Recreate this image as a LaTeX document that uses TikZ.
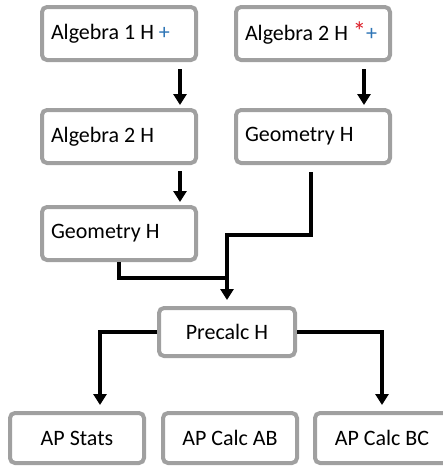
\documentclass[tikz,border=0pt]{standalone}
\usepackage{fontspec}
\setmainfont{Carlito}
\usetikzlibrary{arrows.meta,positioning}
\definecolor{boxgray}{RGB}{160,160,160}
\definecolor{plusblue}{RGB}{46,117,182}
\definecolor{starred}{RGB}{220,30,40}
\newcommand{\lefttext}[1]{\makebox[136pt][l]{#1}}

\begin{document}
\begin{tikzpicture}[x=1pt, y=1pt, font=\fontsize{22}{26}\selectfont,
	   course/.style={draw=boxgray, line width=4pt, rounded corners=5pt, fill=white, minimum height=53pt},
	   lcourse/.style={course, inner xsep=9pt},
	   ccourse/.style={course, minimum width=134pt, align=center},
	   link/.style={line width=3.5pt},
	   arr/.style={link, -{Triangle[width=13pt,length=11pt]}}]
	  \useasboundingbox (0,0) rectangle (443,-467);
	  \node[lcourse] (alg1) at (119,-33.5) {\lefttext{Algebra 1 H \textcolor{plusblue}{+}}};
	  \node[lcourse, right=36pt of alg1] (alg2r) {\lefttext{Algebra 2 H \textcolor{starred}{\scalebox{1.2}{*}}\textcolor{plusblue}{+}}};
	  \node[lcourse, below=46pt of alg1] (alg2) {\lefttext{Algebra 2 H}};
	  \node[lcourse, below=46pt of alg2r] (geor) {\lefttext{Geometry H}};
	  \node[lcourse, below=40pt of alg2] (geol) {\lefttext{Geometry H}};
	  \node[ccourse, minimum width=136pt, minimum height=48pt] (pre) at (227,-332) {Precalc H};
	  \node[ccourse, minimum height=50pt] (stats) at (77,-438) {AP Stats};
	  \node[ccourse, minimum height=50pt, right=15pt of stats] (calcab) {AP Calc AB};
	  \node[ccourse, minimum height=50pt, right=14pt of calcab] (calcbc) {AP Calc BC};
	  % left column
	  \draw[arr, shorten <=7pt, shorten >=3pt] ([xshift=61pt]alg1.south) -- ([xshift=61pt]alg2.north);
	  \draw[arr, shorten <=6pt, shorten >=3pt] ([xshift=61pt]alg2.south) -- ([xshift=61pt]geol.north);
	  % right column
	  \draw[arr, shorten <=7pt, shorten >=3pt] ([xshift=51pt]alg2r.south) -- ([xshift=51pt]geor.north);
	  % into precalc
	  \draw[link] (geol.south) |- ([yshift=28pt]pre.north);
	  \draw[arr, shorten <=7pt, shorten >=6pt] ([xshift=-2pt]geor.south) |- ([yshift=71pt]pre.north) -- (pre.north);
	  % out of precalc
	  \draw[arr, shorten >=6pt] (pre.west) -| ([xshift=23pt]stats.north);
	  \draw[arr, shorten >=6pt] (pre.east) -| (calcbc.north);
	\end{tikzpicture}
\end{document}
